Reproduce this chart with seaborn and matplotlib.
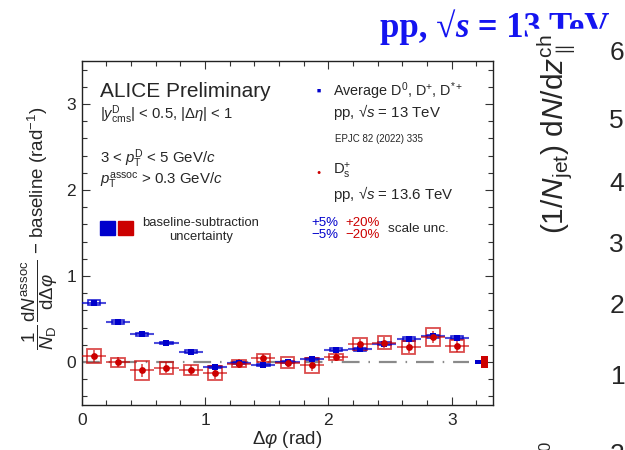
import matplotlib
matplotlib.use("Agg")
import matplotlib.pyplot as plt
import seaborn as sns
import pandas as pd
from matplotlib.patches import Rectangle
from matplotlib.ticker import MultipleLocator

# ---------------- data ----------------
dphi = [0.098, 0.295, 0.491, 0.687, 0.884, 1.080, 1.276, 1.473,
        1.669, 1.865, 2.062, 2.258, 2.454, 2.651, 2.847, 3.043]
bin_halfwidth = 0.098

avgD_y = [0.688, 0.465, 0.324, 0.220, 0.120, -0.058, -0.012, -0.032,
          -0.005, 0.040, 0.144, 0.148, 0.212, 0.268, 0.299, 0.284]
avgD_stat = [0.030, 0.025, 0.022, 0.020, 0.020, 0.020, 0.020, 0.020,
             0.020, 0.020, 0.020, 0.020, 0.022, 0.022, 0.022, 0.022]
avgD_syst = [0.028, 0.026, 0.018, 0.015, 0.014, 0.012, 0.012, 0.012,
             0.012, 0.012, 0.014, 0.015, 0.016, 0.018, 0.020, 0.020]

ds_y = [0.070, -0.003, -0.097, -0.065, -0.093, -0.128, -0.018, 0.047,
        -0.010, -0.040, 0.058, 0.206, 0.226, 0.170, 0.290, 0.186]
ds_stat = [0.070, 0.060, 0.075, 0.060, 0.060, 0.065, 0.050, 0.050,
           0.050, 0.060, 0.050, 0.060, 0.060, 0.065, 0.065, 0.065]
ds_syst = [0.085, 0.052, 0.107, 0.070, 0.054, 0.083, 0.043, 0.045,
           0.064, 0.083, 0.035, 0.072, 0.078, 0.074, 0.100, 0.068]

baseline_unc = {"avgD": 0.027, "Ds": 0.070}

right_numbers = ["6", "5", "4", "3", "2", "1", "2"]

BLUE = "#0000cc"
RED = "#cc0000"

W, H = 625, 450
def px(x, y):
    return x / W, 1 - y / H

sns.set_theme(style="ticks")
plt.rcParams['font.family'] = ['Liberation Sans', 'DejaVu Sans']
plt.rcParams['mathtext.fontset'] = 'custom'
plt.rcParams['mathtext.rm'] = 'Liberation Sans'
plt.rcParams['mathtext.it'] = 'Liberation Sans:italic'
plt.rcParams['mathtext.bf'] = 'Liberation Sans:bold'

fig = plt.figure(figsize=(6.25, 4.5), dpi=100)
fig.patch.set_facecolor("white")
ax = fig.add_axes([81.7 / W, 1 - 405 / H, (493.3 - 81.7) / W, (405 - 61) / H])
ax.set_facecolor("white")

# dash-dot zero line
ax.plot([0, 3.14], [0, 0], color="#8a8a8a", lw=1.6,
        linestyle=(0, (8.0, 4.0, 0.7, 4.0)), zorder=1)

# systematic boxes
for x, y, s in zip(dphi, avgD_y, avgD_syst):
    ax.add_patch(Rectangle((x - 0.05, y - s), 0.10, 2 * s, fill=False,
                           edgecolor=BLUE, lw=1.2, alpha=0.85, zorder=2))
for x, y, s in zip(dphi, ds_y, ds_syst):
    ax.add_patch(Rectangle((x - 0.055, y - s), 0.11, 2 * s, fill=False,
                           edgecolor=RED, lw=1.3, alpha=0.7, zorder=3))

# error bars
ax.errorbar(dphi, avgD_y, xerr=bin_halfwidth, yerr=avgD_stat, fmt="none",
            ecolor=BLUE, elinewidth=1.5, alpha=0.7, capsize=0, zorder=4)
ax.errorbar(dphi, ds_y, xerr=bin_halfwidth, yerr=ds_stat, fmt="none",
            ecolor=RED, elinewidth=1.3, alpha=0.65, capsize=0, zorder=5)

df_b = pd.DataFrame({"dphi": dphi, "y": avgD_y})
df_r = pd.DataFrame({"dphi": dphi, "y": ds_y})
sns.scatterplot(data=df_b, x="dphi", y="y", marker="s", color=BLUE, s=24,
                edgecolor=BLUE, linewidth=0, ax=ax, zorder=6)
sns.scatterplot(data=df_r, x="dphi", y="y", marker="o", color=RED, s=24,
                edgecolor=RED, linewidth=0, ax=ax, zorder=7)

# baseline-uncertainty boxes at right edge
bb = baseline_unc["avgD"]
br = baseline_unc["Ds"]
ax.add_patch(Rectangle((3.19, -bb), 0.046, 2 * bb, color=BLUE, lw=0, zorder=6))
ax.add_patch(Rectangle((3.236, -br), 0.054, 2 * br, color=RED, lw=0, zorder=6))

ax.set_xlim(0, 3.337)
ax.set_ylim(-0.5, 3.5)
ax.xaxis.set_major_locator(MultipleLocator(1))
ax.xaxis.set_minor_locator(MultipleLocator(0.2))
ax.yaxis.set_major_locator(MultipleLocator(1))
ax.yaxis.set_minor_locator(MultipleLocator(0.2))
ax.tick_params(which="both", direction="in", top=True, right=True,
               color="#333333", width=0.8)
ax.tick_params(which="major", length=6, labelsize=12.5, pad=4)
ax.tick_params(which="minor", length=3.3)
ax.tick_params(axis="x", which="major", pad=6)
ax.set_xlabel("")
ax.set_ylabel("")
for sp in ax.spines.values():
    sp.set_color("#222222")
    sp.set_linewidth(1.0)
    sp.set_visible(True)

# axis titles
fig.text(*px(287, 440), r"$\Delta\varphi$ (rad)", ha="center", va="center",
         fontsize=13.5)
fig.text(*px(40, 228),
         r"$\dfrac{1}{N_{\rm D}}\,\dfrac{{\rm d}N^{\rm assoc}}{{\rm d}\Delta\varphi}$ $-$ baseline (rad$^{-1}$)",
         ha="center", va="center", rotation=90, fontsize=13.5)

# left legend block
fig.text(*px(100, 97), "ALICE Preliminary", fontsize=15, va="baseline")
fig.text(*px(100, 119), r"$|y^{\rm D}_{\rm cms}|$ < 0.5, $|\Delta\eta|$ < 1",
         fontsize=10.7, va="baseline")
fig.text(*px(100, 163), r"3 < $p_{\rm T}^{\rm D}$ < 5 GeV/$c$",
         fontsize=10.8, va="baseline")
fig.text(*px(100, 185), r"$p_{\rm T}^{\rm assoc}$ > 0.3 GeV/$c$",
         fontsize=10.8, va="baseline")
fig.patches.append(Rectangle(px(99.5, 235), 15 / W, 14 / H, color=BLUE,
                             transform=fig.transFigure, figure=fig))
fig.patches.append(Rectangle(px(117.5, 235), 15 / W, 14 / H, color=RED,
                             transform=fig.transFigure, figure=fig))
fig.text(*px(201, 226), "baseline-subtraction", fontsize=9.4,
         ha="center", va="baseline")
fig.text(*px(201, 239.5), "uncertainty", fontsize=9.4, ha="center", va="baseline")

# right legend block
fig.text(*px(319, 91), "\u25A0", color=BLUE, fontsize=5, ha="center", va="center")
fig.text(*px(333, 96), r"Average D$^{0}$, D$^{+}$, D$^{*+}$", fontsize=10.4,
         va="baseline")
fig.text(*px(333, 117.5), r"pp, √$s$ = 13 TeV", fontsize=10.8, va="baseline")
fig.text(*px(335, 141.5), "EPJC 82 (2022) 335", fontsize=7, va="baseline")
fig.text(*px(319, 172), "\u25CF", color=RED, fontsize=5, ha="center", va="center")
fig.text(*px(333, 175), r"D$_{\rm s}^{+}$", fontsize=10.6, va="baseline")
fig.text(*px(333, 198.5), r"pp, √$s$ = 13.6 TeV", fontsize=10.8, va="baseline")
fig.text(*px(311, 226), "+5%", color=BLUE, fontsize=9.5, va="baseline")
fig.text(*px(311, 238.5), "\u22125%", color=BLUE, fontsize=9.5, va="baseline")
fig.text(*px(345.5, 226), "+20%", color=RED, fontsize=9.5, va="baseline")
fig.text(*px(345.5, 238.5), "\u221220%", color=RED, fontsize=9.5, va="baseline")
fig.text(*px(388, 231.5), "scale unc.", fontsize=9.7, va="baseline")

# ---------- overlapping material at the right ----------
renderer = fig.canvas.get_renderer()
serif = dict(family=["Liberation Serif", "DejaVu Serif"], weight="bold",
             fontsize=25, color="#1414f0", va="baseline", zorder=1)
t1 = fig.text(*px(380, 37), "pp, \u221A", **serif)
x1 = t1.get_window_extent(renderer).x1
t2 = fig.text(x1 / W, 1 - 37 / H, "s", style="italic", **serif)
x2 = t2.get_window_extent(renderer).x1
fig.text(x2 / W, 1 - 37 / H, " = 13 TeV", **serif)

fig.patches.append(Rectangle(px(528, 450), (W - 528) / W, (450 - 29) / H,
                             color="white", transform=fig.transFigure,
                             figure=fig, zorder=2))

fig.text(*px(557, 134), r"(1/$N_{\rm jet}$) d$N$/d$z^{\rm ch}_{\parallel}$",
         rotation=90, ha="center", va="center", fontsize=21.5, zorder=3)
ys = [53, 121, 184, 245, 306, 377, 455]
xs = [624, 624, 624, 624, 624, 626, 624]
for lab, x, y in zip(right_numbers, xs, ys):
    fig.text(*px(x, y), lab, ha="right", va="center", fontsize=19, zorder=3)
fig.text(*px(546, 446), "0", rotation=90, ha="center", va="center",
         fontsize=12, zorder=3)

fig.savefig("out.png", dpi=100)
